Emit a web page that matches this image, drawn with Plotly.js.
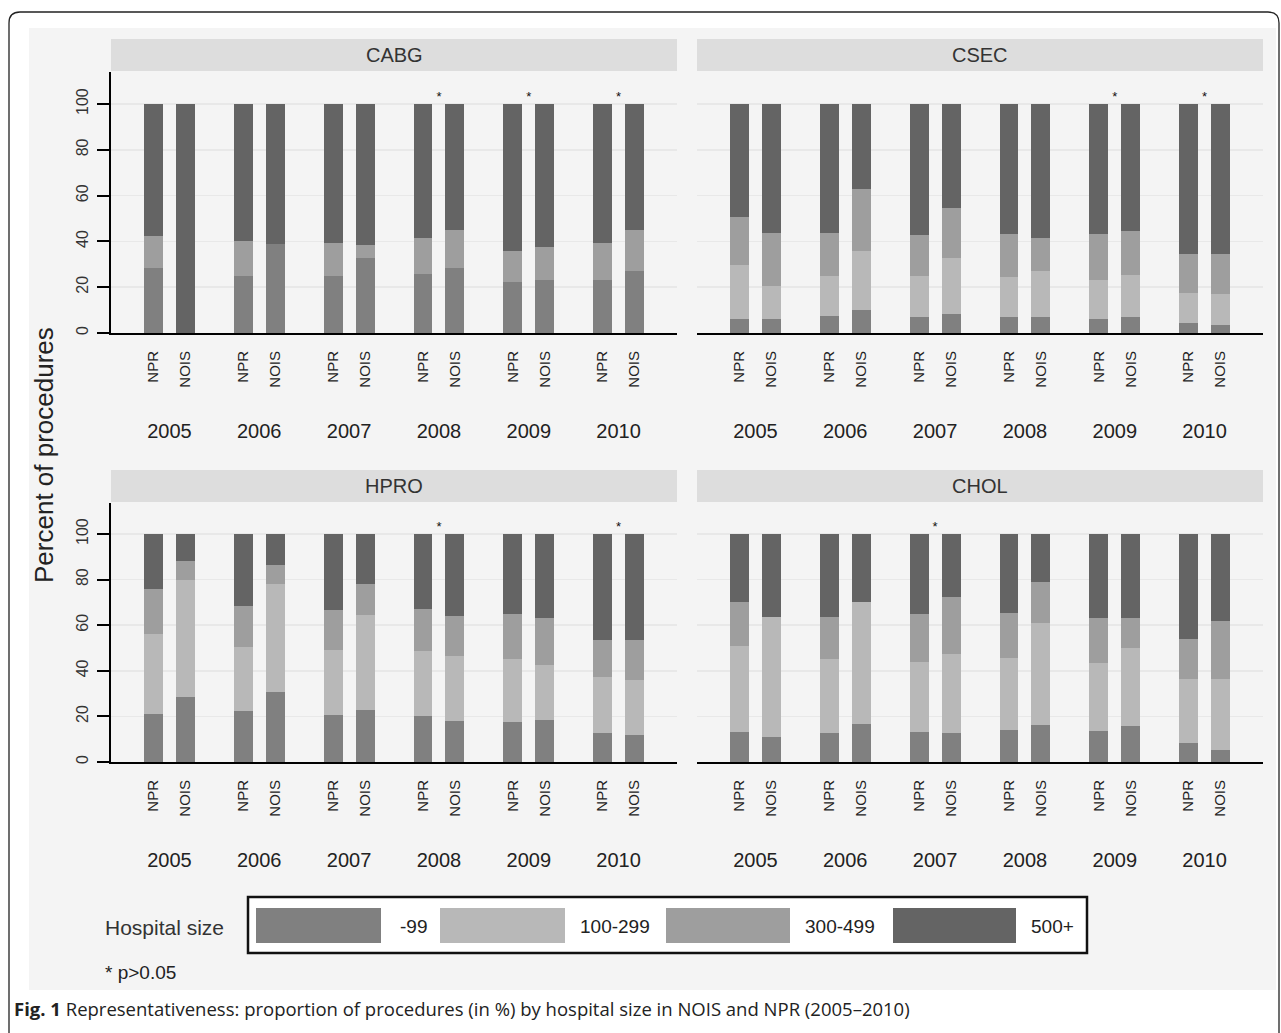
<!DOCTYPE html>
<html><head><meta charset="utf-8">
<script src="https://cdn.plot.ly/plotly-3.0.1.min.js"></script>
<style>html,body{margin:0;padding:0;background:#fff}#chart{width:1281px;height:1033px}</style>
</head><body><div id="chart"></div>
<script>
// ---------- data ----------
const years = ['2005','2006','2007','2008','2009','2010'];
const sources = ['NPR','NOIS'];
const sizes = ['-99','100-299','300-499','500+'];
const sizeColors = ['#808080','#b8b8b8','#9e9e9e','#646464'];
const procedures = ['CABG','CSEC','HPRO','CHOL'];

// percent of procedures, order: NPR 2005, NOIS 2005, NPR 2006, NOIS 2006, ... NPR 2010, NOIS 2010
const cabgUnder100 = [28.6, 0, 25.1, 38.9, 25.1, 32.8, 25.7, 28.6, 22.3, 23.2, 23.2, 27.0];
const cabg100to299 = [0, 0, 0, 0, 0, 0, 0, 0, 0, 0, 0, 0];
const cabg300to499 = [13.7, 0, 14.9, 0, 14.3, 5.5, 15.6, 16.3, 13.7, 14.3, 16.2, 17.9];
const cabg500plus  = [57.7, 100, 60.0, 61.1, 60.6, 61.7, 58.7, 55.1, 64.0, 62.5, 60.6, 55.1];

const csecUnder100 = [6.3, 6.0, 7.6, 10.2, 6.9, 8.2, 6.9, 6.9, 6.3, 6.9, 4.5, 3.5];
const csec100to299 = [23.3, 14.4, 17.5, 25.8, 18.2, 24.6, 17.7, 20.2, 16.7, 18.3, 13.1, 13.7];
const csec300to499 = [21.0, 23.2, 18.5, 26.7, 17.5, 21.6, 18.5, 14.6, 20.1, 19.3, 16.7, 17.1];
const csec500plus  = [49.4, 56.4, 56.4, 37.3, 57.4, 45.6, 56.9, 58.3, 56.9, 55.5, 65.7, 65.7];

const hproUnder100 = [21.2, 28.4, 22.2, 30.7, 20.8, 22.7, 20.3, 18.0, 17.5, 18.4, 12.9, 11.8];
const hpro100to299 = [34.9, 51.4, 28.2, 47.2, 28.2, 41.9, 28.2, 28.6, 27.8, 24.0, 24.4, 24.0];
const hpro300to499 = [19.9, 8.5, 18.0, 8.5, 17.5, 13.3, 18.5, 17.6, 19.8, 20.8, 16.1, 17.6];
const hpro500plus  = [24.0, 11.7, 31.6, 13.6, 33.5, 22.1, 33.0, 35.8, 34.9, 36.8, 46.6, 46.6];

const cholUnder100 = [13.3, 11.0, 12.9, 16.5, 13.3, 12.9, 14.2, 16.1, 13.7, 15.6, 8.5, 5.3];
const chol100to299 = [37.6, 52.7, 32.4, 53.8, 30.6, 34.3, 31.6, 44.7, 29.7, 34.4, 27.9, 31.1];
const chol300to499 = [19.4, 0, 18.4, 0, 21.2, 25.0, 19.7, 18.0, 19.8, 13.2, 17.4, 25.4];
const chol500plus  = [29.7, 36.3, 36.3, 29.7, 34.9, 27.8, 34.5, 21.2, 36.8, 36.8, 46.2, 38.2];

// years with p>0.05 (marked with *)
const cabgStars = ['2008','2009','2010'];
const csecStars = ['2009','2010'];
const hproStars = ['2008','2010'];
const cholStars = ['2007'];

const yTicks = [0, 20, 40, 60, 80, 100];

// ---------- layout helpers ----------
const W = 1281, H = 1033;
const px = x => x / W, py = y => 1 - y / H;
const pairOffset = 0.178, barWidth = 0.21, xRange = [-0.65, 5.65];

const panels = [
  {name: procedures[0], data: [cabgUnder100, cabg100to299, cabg300to499, cabg500plus], stars: cabgStars, xd: [111, 677], yd: [72, 333], strip: [39, 71], yTop: 114, left: true},
  {name: procedures[1], data: [csecUnder100, csec100to299, csec300to499, csec500plus], stars: csecStars, xd: [697, 1263], yd: [72, 333], strip: [39, 71], yTop: 114, left: false},
  {name: procedures[2], data: [hproUnder100, hpro100to299, hpro300to499, hpro500plus], stars: hproStars, xd: [111, 677], yd: [503, 762], strip: [470, 502], yTop: 113.6, left: true},
  {name: procedures[3], data: [cholUnder100, chol100to299, chol300to499, chol500plus], stars: cholStars, xd: [697, 1263], yd: [503, 762], strip: [470, 502], yTop: 113.6, left: false}
];

const xs = [], xLabels = [];
years.forEach((yr, i) => sources.forEach((s, j) => {
  xs.push(i + (j === 0 ? -pairOffset : pairOffset));
  xLabels.push(s);
}));

const font = '"Liberation Sans", Arial, sans-serif';
const traces = [];
const layout = {
  width: W, height: H,
  margin: {l: 0, r: 0, t: 0, b: 0},
  paper_bgcolor: '#ffffff',
  plot_bgcolor: '#ffffff',
  barmode: 'stack',
  showlegend: false,
  font: {family: font, color: '#222'},
  shapes: [], annotations: []
};

// background & frame
layout.shapes.push({type: 'rect', xref: 'paper', yref: 'paper', x0: px(29), x1: px(1276), y0: py(990), y1: py(28),
  fillcolor: '#f4f4f4', line: {width: 0}, layer: 'below'});
const r = 11;
layout.shapes.push({type: 'path', xref: 'paper', yref: 'paper', layer: 'above',
  path: `M ${px(9)} ${py(1045)} L ${px(9)} ${py(12 + r)} Q ${px(9)} ${py(12)} ${px(9 + r)} ${py(12)} L ${px(1279 - r)} ${py(12)} Q ${px(1279)} ${py(12)} ${px(1279)} ${py(12 + r)} L ${px(1279)} ${py(1045)}`,
  line: {color: '#222', width: 1.3}});

const note = (x, y, text, size, opts) => Object.assign({xref: 'paper', yref: 'paper', x: px(x), y: py(y), text: text,
  showarrow: false, xanchor: 'center', yanchor: 'middle', font: {size: size, color: '#222', family: font}}, opts || {});

panels.forEach((p, k) => {
  const n = k + 1;
  const xa = 'x' + n, ya = 'y' + n, xy = 'x' + (n + 4);
  p.data.forEach((vals, c) => {
    traces.push({type: 'bar', x: xs, y: vals, xaxis: xa, yaxis: ya, width: barWidth,
      name: sizes[c], marker: {color: sizeColors[c], line: {width: 0}},
      hovertemplate: p.name + ' ' + sizes[c] + ': %{y}%<extra></extra>'});
  });
  traces.push({type: 'scatter', mode: 'text', xaxis: xy, yaxis: ya,
    x: p.stars.map(s => years.indexOf(s)), y: p.stars.map(() => 100), text: p.stars.map(() => '*'),
    textposition: 'top center', textfont: {size: 13, color: '#111', family: font}, hoverinfo: 'skip', cliponaxis: false});

  layout['xaxis' + n] = {domain: [px(p.xd[0]), px(p.xd[1])], anchor: ya, range: xRange, type: 'linear',
    tickvals: xs, ticktext: xLabels, tickangle: -90, ticks: '', ticklabelstandoff: 10,
    tickfont: {size: 15, color: '#222', family: font},
    showline: true, linecolor: '#000', linewidth: 2, showgrid: false, zeroline: false, fixedrange: true};
  layout['xaxis' + (n + 4)] = {overlaying: xa, anchor: ya, side: 'bottom', range: xRange, type: 'linear',
    tickvals: years.map((y, i) => i), ticktext: years, tickangle: 0, ticks: '', ticklabelstandoff: 84,
    tickfont: {size: 20, color: '#222', family: font},
    showline: false, showgrid: false, zeroline: false, fixedrange: true};
  layout['yaxis' + n] = {domain: [py(p.yd[1]), py(p.yd[0])], anchor: xa, range: [0, p.yTop],
    tickvals: yTicks, tickangle: -90, showgrid: true, gridcolor: '#e8e8e8', gridwidth: 1.5, zeroline: false,
    showline: p.left, linecolor: '#000', linewidth: 2,
    ticks: p.left ? 'outside' : '', ticklen: 12, tickwidth: 2, tickcolor: '#000',
    showticklabels: p.left, ticklabelstandoff: 3, tickfont: {size: 16, color: '#333', family: font}, fixedrange: true};

  // facet strip
  layout.shapes.push({type: 'rect', xref: 'paper', yref: 'paper', x0: px(p.xd[0]), x1: px(p.xd[1]),
    y0: py(p.strip[1]), y1: py(p.strip[0]), fillcolor: '#dddddd', line: {width: 0}, layer: 'below'});
  layout.annotations.push(note((p.xd[0] + p.xd[1]) / 2, (p.strip[0] + p.strip[1]) / 2, p.name, 20, {font: {size: 20, color: '#333', family: font}}));
});

// y axis title
layout.annotations.push(note(44, 455, 'Percent of procedures', 26, {textangle: -90}));

// legend (drawn manually to reproduce the wide swatches)
layout.shapes.push({type: 'rect', xref: 'paper', yref: 'paper', x0: px(248), x1: px(1087), y0: py(953), y1: py(897),
  fillcolor: '#ffffff', line: {color: '#111', width: 2.5}});
const swatchX = [[256, 381], [440, 565], [666, 790], [893, 1016]];
const labelX = [413, 615, 840, 1052];
sizes.forEach((s, i) => {
  layout.shapes.push({type: 'rect', xref: 'paper', yref: 'paper', x0: px(swatchX[i][0]), x1: px(swatchX[i][1]),
    y0: py(943), y1: py(908), fillcolor: sizeColors[i], line: {width: 0}});
  layout.annotations.push(note(labelX[i], 926, s, 19));
});
layout.annotations.push(note(103, 927, 'Hospital size', 21, {xanchor: 'left', font: {size: 21, color: '#333', family: font}}));
layout.annotations.push(note(103, 972, '* p>0.05', 19, {xanchor: 'left'}));

// caption
layout.annotations.push(note(12, 1008,
  '<b>Fig. 1</b> Representativeness: proportion of procedures (in %) by hospital size in NOIS and NPR (2005–2010)', 18.5,
  {xanchor: 'left', font: {size: 18.5, color: '#222', family: '"Open Sans", "Noto Sans", sans-serif'}}));

Plotly.newPlot('chart', traces, layout, {staticPlot: true, displayModeBar: false});
</script></body></html>
